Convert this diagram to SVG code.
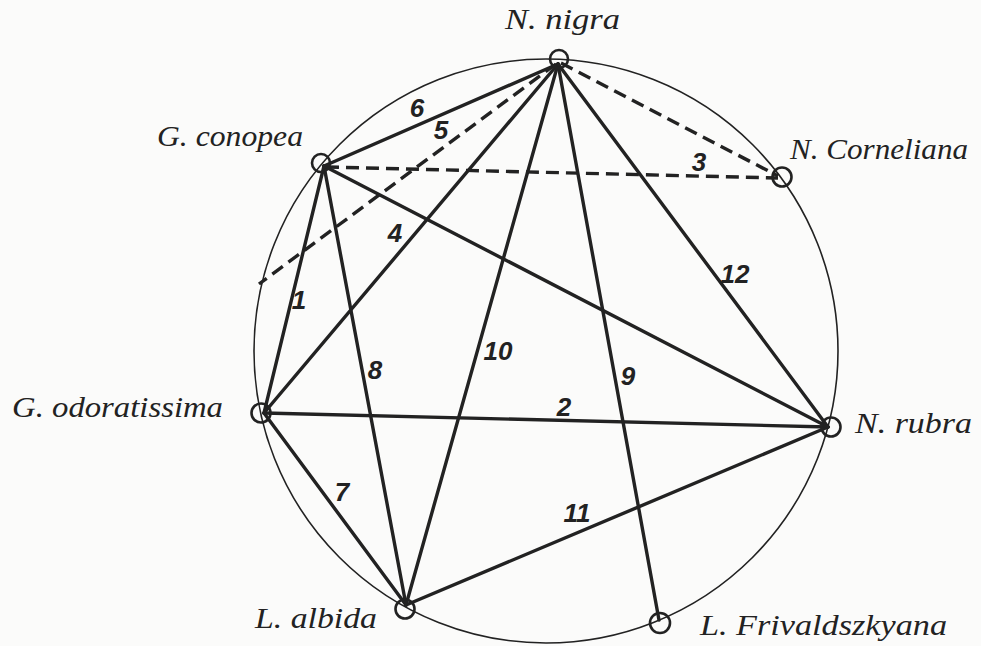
<svg xmlns="http://www.w3.org/2000/svg" width="981" height="646" viewBox="0 0 981 646">
<style>
.bg{fill:#fbfbfa}
.ring{fill:none;stroke:#222;stroke-width:1.6}
.ln{stroke:#222;stroke-width:3.4;stroke-linecap:round;fill:none}
.dash{stroke:#222;stroke-width:3.4;stroke-dasharray:13 7;fill:none}
.node{fill:none;stroke:#222;stroke-width:2.6}
.lbl{font-family:"Liberation Serif","Times New Roman",serif;font-style:italic;font-size:29px;fill:#222}
.num{font-family:"Liberation Sans",Arial,sans-serif;font-style:italic;font-weight:bold;font-size:26px;fill:#222;text-anchor:middle}
</style>
<rect class="bg" x="0" y="0" width="981" height="646"/>
<circle class="ring" cx="546" cy="351" r="292"/>
<g id="connectors">
<line class="ln" x1="324" y1="166" x2="264" y2="413"/>
<line class="ln" x1="264" y1="413" x2="828" y2="427"/>
<line class="ln" x1="264" y1="413" x2="558" y2="64"/>
<line class="ln" x1="324" y1="166" x2="558" y2="64"/>
<line class="ln" x1="264" y1="413" x2="406" y2="605"/>
<line class="ln" x1="324" y1="166" x2="406" y2="605"/>
<line class="ln" x1="558" y1="64" x2="659" y2="620"/>
<line class="ln" x1="558" y1="64" x2="406" y2="605"/>
<line class="ln" x1="406" y1="605" x2="828" y2="427"/>
<line class="ln" x1="558" y1="64" x2="828" y2="427"/>
<line class="ln" x1="324" y1="166" x2="828" y2="427"/>
<line class="dash" x1="556" y1="64" x2="259" y2="284"/>
<line class="dash" x1="326" y1="167" x2="778" y2="178"/>
<line class="dash" x1="561" y1="63" x2="778" y2="176"/>
</g>
<g id="edge-labels">
<text class="num" x="417" y="117">6</text>
<text class="num" x="441" y="139">5</text>
<text class="num" x="699" y="171">3</text>
<text class="num" x="395" y="242">4</text>
<text class="num" x="299" y="309">1</text>
<text class="num" x="735" y="283">12</text>
<text class="num" x="498" y="360">10</text>
<text class="num" x="375" y="379">8</text>
<text class="num" x="628" y="385">9</text>
<text class="num" x="564" y="416">2</text>
<text class="num" x="342" y="501">7</text>
<text class="num" x="577" y="522">11</text>
</g>
<g id="n-nigra"><circle class="node" cx="559" cy="59" r="9"/><text class="lbl" x="505" y="29" textLength="115" lengthAdjust="spacingAndGlyphs">N. nigra</text></g>
<g id="g-conopea"><circle class="node" cx="321" cy="163" r="9"/><text class="lbl" x="157" y="146" textLength="146" lengthAdjust="spacingAndGlyphs">G. conopea</text></g>
<g id="n-corneliana"><circle class="node" cx="782" cy="177" r="9.5"/><text class="lbl" x="790" y="159" textLength="178" lengthAdjust="spacingAndGlyphs">N. Corneliana</text></g>
<g id="g-odoratissima"><circle class="node" cx="261" cy="413" r="9.5"/><text class="lbl" x="12" y="417" textLength="211" lengthAdjust="spacingAndGlyphs">G. odoratissima</text></g>
<g id="n-rubra"><circle class="node" cx="831" cy="427" r="9.5"/><text class="lbl" x="855" y="433" textLength="117" lengthAdjust="spacingAndGlyphs">N. rubra</text></g>
<g id="l-albida"><circle class="node" cx="405" cy="609" r="9.5"/><text class="lbl" x="255" y="628" textLength="122" lengthAdjust="spacingAndGlyphs">L. albida</text></g>
<g id="l-frivaldszkyana"><circle class="node" cx="660" cy="623" r="10"/><text class="lbl" x="700" y="635" textLength="247" lengthAdjust="spacingAndGlyphs">L. Frivaldszkyana</text></g>
</svg>
